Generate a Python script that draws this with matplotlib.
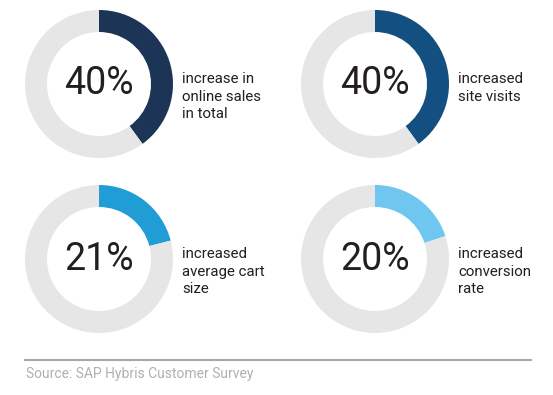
import matplotlib
matplotlib.use('Agg')
import matplotlib.pyplot as plt

# --- data ---
values = [40, 40, 21, 20]
pct_labels = ['40%', '40%', '21%', '20%']
descriptions = ['increase in\nonline sales\nin total',
                'increased\nsite visits',
                'increased\naverage cart\nsize',
                'increased\nconversion\nrate']
colors = ['#1c3557', '#134f80', '#219dd6', '#6fc6ef']
source = 'Source: SAP Hybris Customer Survey'

W, H = 553, 395
fig = plt.figure(figsize=(W / 100, H / 100), dpi=100)
ax = fig.add_axes([0, 0, 1, 1])

centers = [(99, H - 84), (375, H - 84), (99, H - 259), (375, H - 259)]
radius = 74
ring = 22

for (cx, cy), v, pl, desc, c in zip(centers, values, pct_labels, descriptions, colors):
    ax.pie([v, 100 - v], colors=[c, '#e6e6e6'], startangle=90, counterclock=False,
           center=(cx, cy), radius=radius, frame=True,
           wedgeprops=dict(width=ring, linewidth=0))
    ax.text(cx, cy, pl, ha='center', va='center', fontsize=27,
            family='Roboto', color='#231f20')
    ax.text(cx + 83, cy + 12, desc, ha='left', va='top', fontsize=10.8,
            family='Roboto', color='#231f20', linespacing=1.32)

ax.set_xlim(0, W)
ax.set_ylim(0, H)
ax.set_aspect('equal')
ax.axis('off')

ax.plot([25, 531], [H - 360, H - 360], color='#a7a7a7', linewidth=1.5)
ax.text(26, H - 374, source, ha='left', va='center', fontsize=10,
        family='Roboto', color='#b0b0b0')

fig.savefig('out.png', dpi=100)
